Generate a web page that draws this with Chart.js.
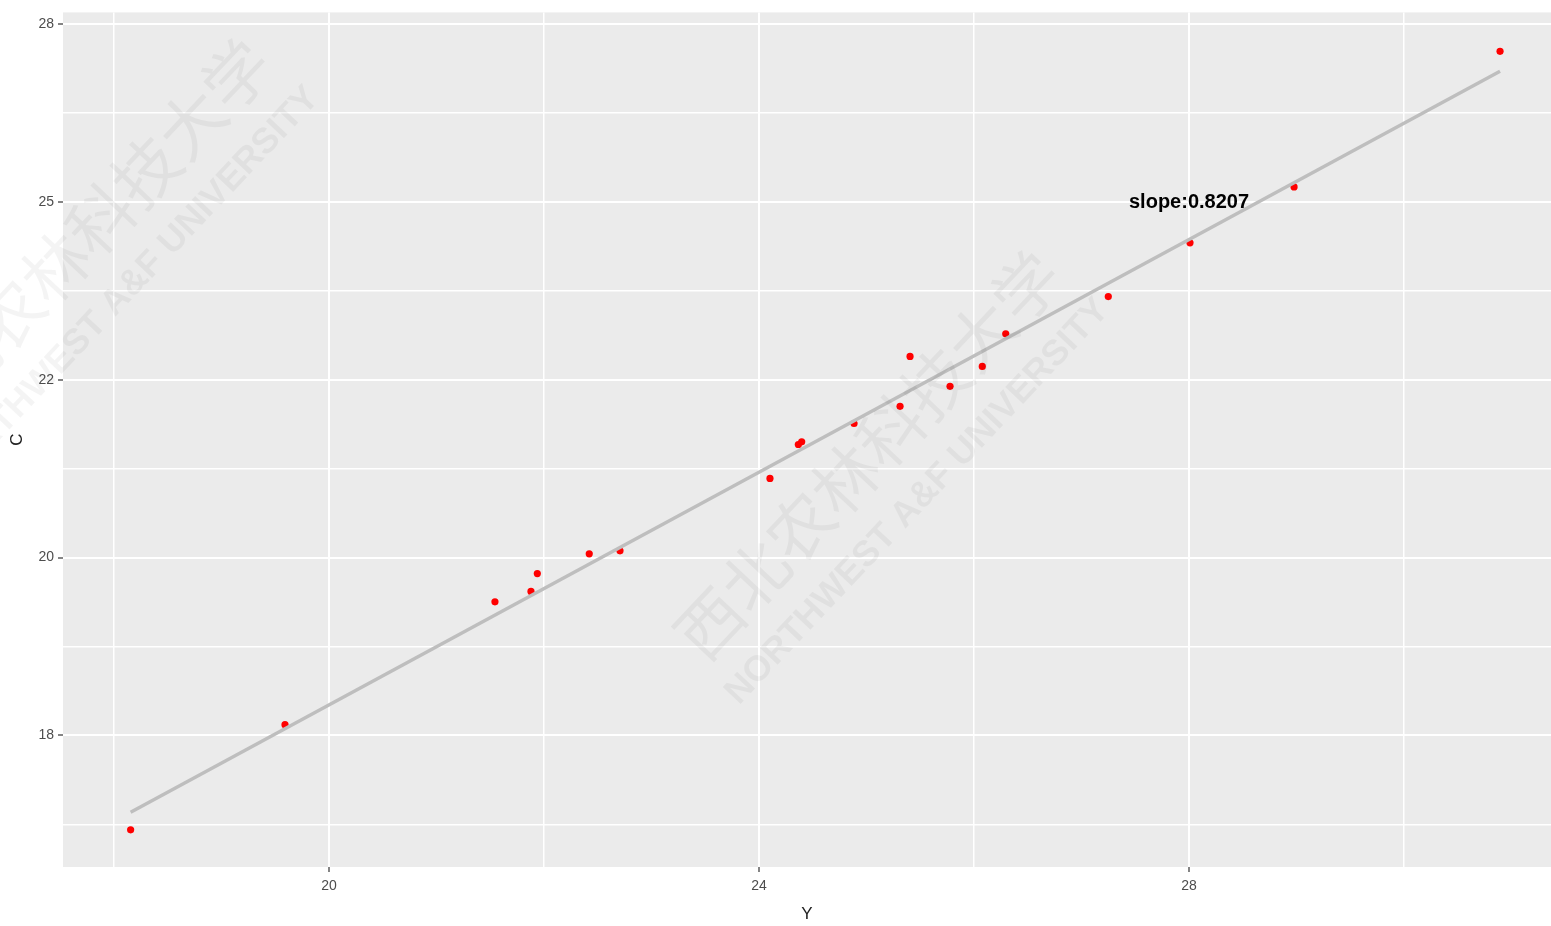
<!DOCTYPE html>
<html>
<head>
<meta charset="utf-8">
<script src="https://cdn.jsdelivr.net/npm/chart.js@4.4.1/dist/chart.umd.min.js"></script>
<style>
html, body { margin: 0; padding: 0; background: #fff; overflow: hidden; }
#wrap { width: 1551px; height: 926px; overflow: hidden; }
canvas { display: block; }
</style>
</head>
<body>
<div id="wrap"><canvas id="chart" width="1555" height="926"></canvas></div>
<script>
// observed points (Y on x axis, C on y axis)
const yObs = [18.155, 19.591, 21.544, 21.879, 21.938, 22.421, 22.707, 24.102, 24.366, 24.397,
              24.884, 25.312, 25.405, 25.777, 26.077, 26.295, 27.249, 28.009, 28.977, 30.893];
const cObs = [16.672, 18.150, 19.879, 20.024, 20.276, 20.553, 20.595, 21.614, 22.091, 22.128,
              22.386, 22.628, 23.330, 22.909, 23.189, 23.648, 24.171, 24.928, 25.714, 27.621];

// fitted line ends
const fitX = [18.155, 30.893];
const fitY = [16.92, 27.34];

const slopeText = 'slope:0.8207';
const slopeAt = [28.0, 25.5];

const xMajor = [20, 24, 28];
const xMinor = [18, 22, 26, 30];
const yMajor = [18, 20.5, 23, 25.5, 28];
const yMajorLabels = ['18', '20', '22', '25', '28'];
const yMinor = [16.75, 19.25, 21.75, 24.25, 26.75];

const near = (a, b) => Math.abs(a - b) < 1e-6;
const isMajor = (list, v) => list.some(m => near(m, v));

const panelBg = {
  id: 'panelBg',
  beforeDraw(chart) {
    const { ctx, chartArea: a } = chart;
    ctx.save();
    ctx.fillStyle = '#EBEBEB';
    ctx.fillRect(a.left, a.top, a.right - a.left, a.bottom - a.top);
    ctx.restore();
  }
};

const slopeLabel = {
  id: 'slopeLabel',
  afterDatasetsDraw(chart) {
    const { ctx, scales } = chart;
    ctx.save();
    ctx.font = 'bold 20px "Liberation Sans", Arial, sans-serif';
    ctx.fillStyle = '#000';
    ctx.textAlign = 'center';
    ctx.textBaseline = 'middle';
    ctx.fillText(slopeText, scales.x.getPixelForValue(slopeAt[0]), scales.y.getPixelForValue(slopeAt[1]));
    ctx.restore();
  }
};

function stamp(ctx, cx, cy) {
  ctx.save();
  ctx.translate(cx, cy);
  ctx.rotate(-Math.PI / 4 - 0.03);
  ctx.fillStyle = 'rgba(0,0,0,0.045)';
  ctx.textAlign = 'center';
  ctx.textBaseline = 'middle';
  ctx.font = '66px "Noto Sans CJK SC"';
  ctx.fillText('西北农林科技大学', 0, 0);
  ctx.font = 'bold 36px "Liberation Sans", Arial, sans-serif';
  ctx.fillText('NORTHWEST A&F UNIVERSITY', 0, 68);
  ctx.restore();
}

const watermark = {
  id: 'watermark',
  afterDraw(chart) {
    stamp(chart.ctx, 78, 243);
    stamp(chart.ctx, 868, 455);
  }
};

new Chart(document.getElementById('chart'), {
  type: 'scatter',
  data: {
    datasets: [
      {
        label: 'fit',
        data: fitX.map((x, i) => ({ x: x, y: fitY[i] })),
        showLine: true,
        borderColor: '#BEBEBE',
        borderWidth: 3.5,
        pointRadius: 0
      },
      {
        label: 'C',
        data: yObs.map((x, i) => ({ x: x, y: cObs[i] })),
        backgroundColor: '#FF0000',
        borderWidth: 0,
        pointRadius: 3.6
      }
    ]
  },
  options: {
    responsive: false,
    animation: false,
    layout: { padding: { top: 10, right: 0, left: 0, bottom: 0 } },
    plugins: {
      legend: { display: false },
      tooltip: { enabled: false }
    },
    scales: {
      x: {
        type: 'linear',
        min: 17.526,
        max: 31.367,
        afterFit: s => { s.height = 59; s.paddingLeft = 0; s.paddingRight = 0; },
        afterBuildTicks: s => { s.ticks = xMinor.concat(xMajor).sort((a, b) => a - b).map(v => ({ value: v })); },
        border: { display: false },
        grid: {
          color: '#FFFFFF',
          lineWidth: c => isMajor(xMajor, c.tick.value) ? 2 : 1.5,
          tickLength: 5,
          tickWidth: 1.2,
          tickColor: c => isMajor(xMajor, c.tick.value) ? '#333333' : 'rgba(0,0,0,0)'
        },
        ticks: {
          autoSkip: false,
          maxRotation: 0,
          padding: 6,
          color: '#4D4D4D',
          font: { family: '"Liberation Sans", Arial, sans-serif', size: 14 },
          callback: v => isMajor(xMajor, v) ? String(v) : ''
        },
        title: {
          display: true,
          text: 'Y',
          color: '#222',
          padding: { top: 0, bottom: 1 },
          font: { family: '"Liberation Sans", Arial, sans-serif', size: 17 }
        }
      },
      y: {
        type: 'linear',
        min: 16.149,
        max: 28.168,
        afterFit: s => { s.width = 63; },
        afterBuildTicks: s => { s.ticks = yMinor.concat(yMajor).sort((a, b) => a - b).map(v => ({ value: v })); },
        border: { display: false },
        grid: {
          color: '#FFFFFF',
          lineWidth: c => isMajor(yMajor, c.tick.value) ? 2 : 1.5,
          tickLength: 5,
          tickWidth: 1.2,
          tickColor: c => isMajor(yMajor, c.tick.value) ? '#333333' : 'rgba(0,0,0,0)'
        },
        ticks: {
          autoSkip: false,
          padding: 4,
          color: '#4D4D4D',
          font: { family: '"Liberation Sans", Arial, sans-serif', size: 14 },
          callback: v => {
            const i = yMajor.findIndex(m => near(m, v));
            return i >= 0 ? yMajorLabels[i] : '';
          }
        },
        title: {
          display: true,
          text: 'C',
          color: '#222',
          padding: { top: 7, bottom: 0 },
          font: { family: '"Liberation Sans", Arial, sans-serif', size: 17 }
        }
      }
    }
  },
  plugins: [panelBg, slopeLabel, watermark]
});
</script>
</body>
</html>
